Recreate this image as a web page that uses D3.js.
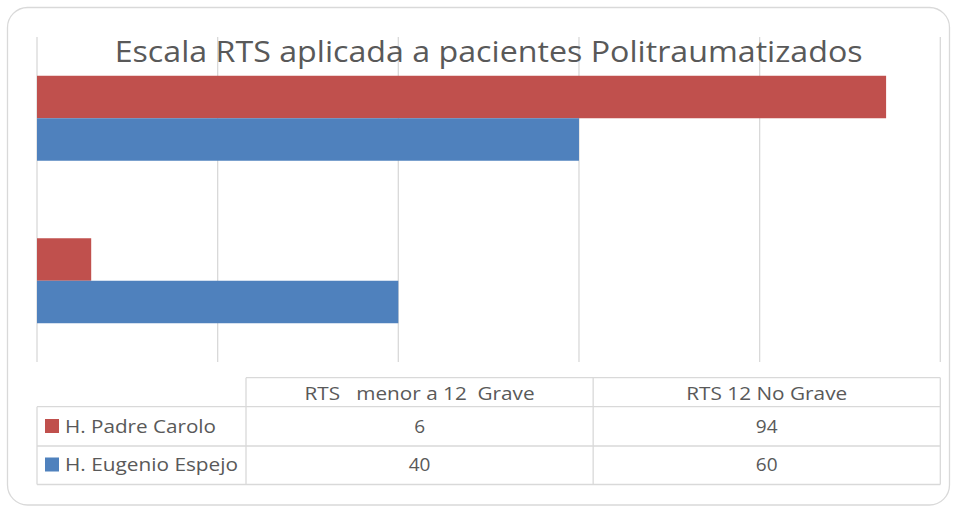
<!DOCTYPE html>
<html><head><meta charset="utf-8">
<script src="https://cdn.jsdelivr.net/npm/d3@7"></script>
<style>body{margin:0;background:#fff}svg{display:block}text{font-family:"Open Sans",sans-serif;fill:#595959}</style>
</head><body><svg id="c" width="958" height="509"></svg>
<script>
const title = "Escala RTS aplicada a pacientes Politraumatizados";
const categories = ["RTS   menor a 12  Grave", "RTS 12 No Grave"];
const seriesNames = ["H. Padre Carolo", "H. Eugenio Espejo"];
const padreCarolo = [6, 94];
const eugenioEspejo = [40, 60];
const xTicks = [0, 20, 40, 60, 80, 100];
const colors = ["#C0504D", "#4F81BD"];

const series = [padreCarolo, eugenioEspejo];
const svg = d3.select("#c");

// outer rounded frame
svg.append("rect").attr("x", 7.5).attr("y", 7.5).attr("width", 942).attr("height", 497.5)
  .attr("rx", 20).attr("fill", "#fff").attr("stroke", "#d9d9d9").attr("stroke-width", 1.3);

const x = d3.scaleLinear().domain([0, 100]).range([37, 940.3]);
const plotTop = 37, plotBot = 362;
const y = d3.scaleBand().domain(categories.slice().reverse()).range([plotTop, plotBot]).paddingInner(0.477).paddingOuter(0.2385);
const ySub = d3.scaleBand().domain(seriesNames).range([0, y.bandwidth()]);

// gridlines
svg.append("g").selectAll("line").data(xTicks).join("line")
  .attr("x1", d => x(d)).attr("x2", d => x(d)).attr("y1", plotTop).attr("y2", plotBot)
  .attr("stroke", "#d9d9d9").attr("stroke-width", 1.3);

// bars
categories.forEach((cat, ci) => {
  series.forEach((vals, si) => {
    svg.append("rect")
      .attr("x", x(0)).attr("y", y(cat) + ySub(seriesNames[si]))
      .attr("width", x(vals[ci]) - x(0)).attr("height", ySub.bandwidth())
      .attr("fill", colors[si]);
  });
});

// title
svg.append("text").attr("x", (x(0) + x(100)) / 2).attr("y", 62).attr("text-anchor", "middle")
  .attr("font-size", 29.5).attr("textLength", 748).attr("lengthAdjust", "spacingAndGlyphs").text(title);

// data table
const tLeft = 37, tLegR = 246, tRight = 940.3;
const colX = d3.scaleBand().domain(categories).range([tLegR, tRight]);
const rowY = [377.7, 406.7, 446, 484.5];
const g = svg.append("g");
const lc = "#d9d9d9", lw = 1.3;
g.append("line").attr("x1", tLegR).attr("x2", tRight).attr("y1", rowY[0]).attr("y2", rowY[0]).attr("stroke", lc).attr("stroke-width", lw);
[1, 2, 3].forEach(i => g.append("line").attr("x1", tLeft).attr("x2", tRight).attr("y1", rowY[i]).attr("y2", rowY[i]).attr("stroke", lc).attr("stroke-width", lw));
g.append("line").attr("x1", tLeft).attr("x2", tLeft).attr("y1", rowY[1]).attr("y2", rowY[3]).attr("stroke", lc).attr("stroke-width", lw);
[tLegR, tLegR + colX.bandwidth(), tRight].forEach(xx => g.append("line").attr("x1", xx).attr("x2", xx).attr("y1", rowY[0]).attr("y2", rowY[3]).attr("stroke", lc).attr("stroke-width", lw));

const fs = 19;
const headerLen = [230, 161];
const labelLen = [151, 173];
categories.forEach((c, ci) => g.append("text").attr("x", colX(c) + colX.bandwidth() / 2).attr("y", 399.5)
  .attr("text-anchor", "middle").attr("font-size", fs).attr("xml:space", "preserve").style("white-space", "pre")
  .attr("textLength", headerLen[ci]).attr("lengthAdjust", "spacingAndGlyphs").text(c));
const baselines = [432.5, 471];
seriesNames.forEach((s, si) => {
  g.append("rect").attr("x", 45).attr("y", baselines[si] - 13.5).attr("width", 14).attr("height", 14).attr("fill", colors[si]);
  g.append("text").attr("x", 65).attr("y", baselines[si]).attr("font-size", fs)
    .attr("textLength", labelLen[si]).attr("lengthAdjust", "spacingAndGlyphs").text(s);
  categories.forEach((c, ci) => g.append("text").attr("x", colX(c) + colX.bandwidth() / 2).attr("y", baselines[si])
    .attr("text-anchor", "middle").attr("font-size", fs).text(series[si][ci]));
});
</script></body></html>
